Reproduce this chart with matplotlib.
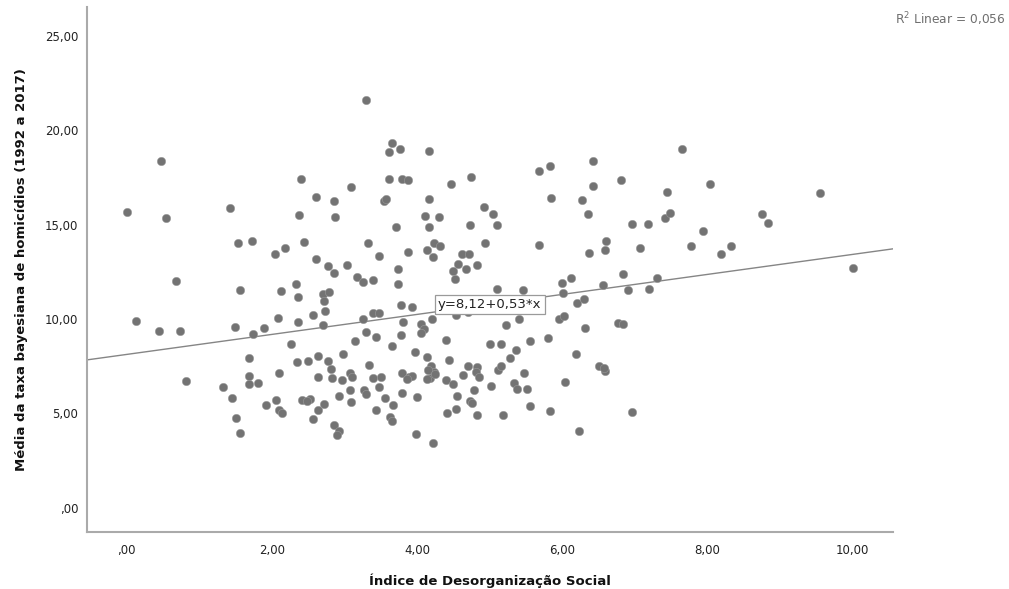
import matplotlib
matplotlib.use("Agg")
import matplotlib.pyplot as plt
import numpy as np

# data (Índice de Desorganização Social vs média da taxa)
x_vals = [
    3.30, 0.48, 2.40, 3.09, 2.61, 2.85, 0.00, 0.54, 1.43, 2.37, 2.87, 1.53, 1.73, 2.04, 2.18, 2.44, 3.32,
    3.47, 2.61, 2.78, 2.86, 3.03, 3.17, 3.26, 3.40, 0.68, 1.56, 2.13, 2.33, 2.36, 2.70, 2.79, 2.72, 2.73,
    0.13, 0.45, 0.73, 1.49, 1.74, 1.89, 2.08, 2.36, 2.57, 2.70, 3.26, 3.40, 3.47, 3.30, 3.44, 3.15, 2.27,
    1.69, 2.98, 2.63, 2.34, 2.50, 2.78, 2.82, 3.34, 2.10, 1.69, 1.69, 1.81, 0.82, 2.64, 2.83, 2.97, 3.08,
    3.10, 3.39, 3.47, 3.08, 3.27, 3.29, 1.33, 1.45, 2.06, 1.92, 2.41, 2.53, 2.49, 2.92, 3.09, 2.72, 2.64,
    2.10, 2.14, 3.44, 1.51, 2.57, 2.85, 2.93, 2.90, 1.56,
    3.66, 3.62, 3.77, 4.16, 3.61, 3.79, 3.87, 4.47, 4.74, 3.54, 3.57, 4.17, 4.11, 4.30, 3.71, 4.16, 3.87,
    4.14, 4.24, 4.32, 4.22, 4.73, 4.92, 5.04, 5.10, 4.94, 4.62, 4.71, 4.56, 4.49, 4.52, 4.67, 4.82, 3.74,
    3.74, 5.68, 5.83, 5.84, 6.42, 6.42, 6.27, 6.35, 6.81, 7.44, 5.68, 6.96, 7.18, 7.41, 7.49, 6.60, 6.59,
    6.37, 7.07, 5.99, 6.12, 6.01, 6.56, 6.83, 6.90, 7.19, 7.31, 5.10, 5.46, 6.20, 6.30, 3.78, 3.93,
    3.80, 4.06, 4.10, 4.06, 4.21, 4.53, 4.70, 5.22, 5.41, 5.95, 6.03, 6.31, 6.77, 6.84, 3.78, 3.66, 4.40,
    5.01, 5.16, 5.55, 5.80, 5.36, 5.28, 6.19, 3.97, 4.14, 4.44, 4.19, 4.23, 4.15, 4.18, 4.25, 4.14, 4.70,
    4.83, 4.81, 4.85, 4.63, 5.12, 5.15, 5.47, 3.79, 3.89, 3.93, 3.86, 3.50, 4.40, 4.49, 4.78, 5.02, 5.34,
    5.38, 5.52, 6.04, 6.50, 6.59, 6.57, 3.79, 4.00, 3.56, 3.67, 3.63, 3.66, 4.55, 4.73, 4.76, 4.41, 4.53,
    4.83, 5.18, 5.55, 5.83, 3.98, 4.22, 6.23, 6.96,
    7.65, 8.04, 9.55, 8.75, 8.84, 7.94, 7.77, 8.19, 8.32, 10.00,
]
y_vals = [
    21.61, 18.35, 17.39, 16.99, 16.44, 16.24, 15.68, 15.36, 15.87, 15.52, 15.38, 14.00, 14.11, 13.45, 13.74,
    14.09, 14.04, 13.35, 13.16, 12.82, 12.43, 12.87, 12.22, 11.94, 12.08, 12.01, 11.55, 11.48, 11.83, 11.16,
    11.30, 11.44, 10.96, 10.42,
    9.89, 9.34, 9.38, 9.59, 9.20, 9.53, 10.06, 9.84, 10.21, 9.68, 9.98, 10.30, 10.33, 9.29, 9.07, 8.85, 8.69,
    7.91, 8.14, 8.04, 7.70, 7.75, 7.79, 7.35, 7.57, 7.15, 6.96, 6.57, 6.59, 6.71, 6.91, 6.89, 6.76, 7.15,
    6.91, 6.87, 6.37, 6.23, 6.23, 6.01, 6.38, 5.83, 5.69, 5.42, 5.70, 5.77, 5.65, 5.92, 5.58, 5.48, 5.17,
    5.17, 5.03, 5.17, 4.73, 4.71, 4.36, 4.08, 3.87, 3.94,
    19.30, 18.84, 19.00, 18.91, 17.39, 17.41, 17.36, 17.13, 17.53, 16.26, 16.35, 16.33, 15.45, 15.41, 14.85,
    14.85, 13.54, 13.65, 14.04, 13.88, 13.28, 14.99, 15.93, 15.56, 14.96, 14.04, 13.45, 13.45, 12.89, 12.54,
    12.13, 12.63, 12.86, 12.63, 11.83, 17.82, 18.08, 16.39, 18.38, 17.04, 16.30, 15.54, 17.37, 16.74, 13.93,
    15.04, 15.03, 15.33, 15.61, 14.13, 13.63, 13.51, 13.74, 11.90, 12.18, 11.39, 11.78, 12.36, 11.52, 11.60,
    12.18, 11.60, 11.55, 10.83, 11.04, 10.72, 10.61,
    9.82, 9.73, 9.45, 9.25, 9.98, 10.21, 10.38, 9.66, 9.99, 9.98, 10.17, 9.50, 9.77, 9.71, 9.15, 8.56, 8.88,
    8.69, 8.65, 8.85, 8.99, 8.34, 7.94, 8.14, 8.23, 7.97, 7.81, 7.52, 7.20, 7.29, 6.89, 7.08, 6.82, 7.52,
    7.45, 7.20, 6.94, 7.03, 7.31, 7.52, 7.13, 7.15, 6.91, 6.96, 6.80, 6.91, 6.75, 6.55, 6.23, 6.45, 6.59,
    6.27, 6.29, 6.64, 7.52, 7.22, 7.42, 6.06, 5.85, 5.79, 5.42, 4.79, 4.61, 5.92, 5.67, 5.56, 5.03, 5.24,
    4.89, 4.89, 5.40, 5.11, 3.89, 3.44, 4.05, 5.05,
    19.02, 17.16, 16.65, 15.57, 15.10, 14.66, 13.88, 13.42, 13.85, 12.70,
]

intercept = 8.12
slope = 0.53
r2_text = "0,056"
eq_text = "y=8,12+0,53*x"

x_ticks = [0, 2, 4, 6, 8, 10]
x_ticklabels = [",00", "2,00", "4,00", "6,00", "8,00", "10,00"]
y_ticks = [0, 5, 10, 15, 20, 25]
y_ticklabels = [",00", "5,00", "10,00", "15,00", "20,00", "25,00"]

XLIM = (-0.55, 10.55)
YLIM = (-1.27, 26.5)

fig = plt.figure(figsize=(10.09, 5.89), dpi=100)
ax = fig.add_axes([0.0859, 0.0973, 0.7988, 0.8900])

ax.scatter(x_vals, y_vals, s=36, color="#737373", edgecolors="#9a9a9a",
           linewidths=0.4, zorder=3)

# fit line over the full x range
lx = np.array(XLIM)
ax.plot(lx, intercept + slope * lx, color="#858585", lw=1.0, zorder=2)

xm = np.mean(XLIM)
ax.text(xm, intercept + slope * xm, eq_text, ha="center", va="center",
        fontsize=9.5, color="#222222", zorder=5,
        bbox=dict(boxstyle="square,pad=0.25", fc="white", ec="#9a9a9a", lw=0.9))

ax.set_xlim(*XLIM)
ax.set_ylim(*YLIM)
ax.set_xticks(x_ticks)
ax.set_xticklabels(x_ticklabels)
ax.set_yticks(y_ticks)
ax.set_yticklabels(y_ticklabels)
ax.tick_params(length=0, labelsize=8.5, colors="#222222")
ax.tick_params(axis="x", pad=9)
ax.tick_params(axis="y", pad=6)

for side in ["top", "right"]:
    ax.spines[side].set_visible(False)
for side in ["left", "bottom"]:
    ax.spines[side].set_color("#aaaaaa")
    ax.spines[side].set_linewidth(1.5)

ax.set_xlabel("Índice de Desorganização Social", fontsize=9.5, fontweight="bold",
              labelpad=12, color="#111111")
ax.set_ylabel("Média da taxa bayesiana de homicídios (1992 a 2017)", fontsize=9.5,
              fontweight="bold", labelpad=12, color="#111111")

fig.text(0.997, 0.968, "R$^2$ Linear = " + r2_text, ha="right", va="center",
         fontsize=8.8, color="#6f6f6f")

fig.savefig("out.png", dpi=100)
